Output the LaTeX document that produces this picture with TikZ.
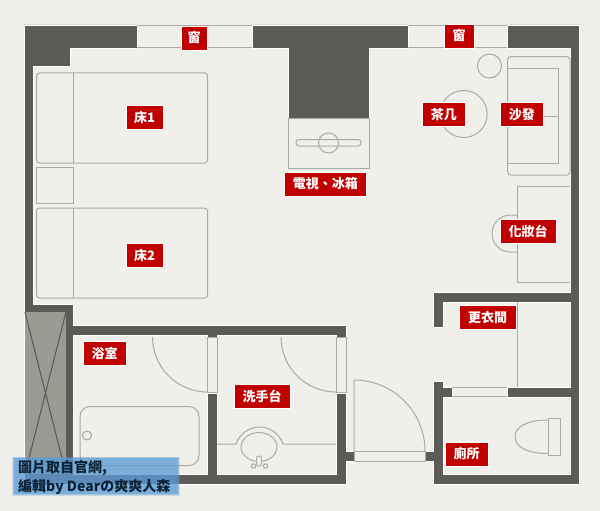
\documentclass[tikz,border=0pt]{standalone}
\usepackage{fontspec}
\setmainfont{Noto Sans CJK TC}
\definecolor{paper}{HTML}{F0EFEA}
\definecolor{wallgrey}{HTML}{5C5B58}
\definecolor{linegrey}{HTML}{ABAAA2}
\definecolor{shaftgrey}{HTML}{9B9B94}
\definecolor{tagred}{HTML}{C00000}
\definecolor{capblue}{HTML}{5B9BD5}
\definecolor{capink}{HTML}{0C2236}
\tikzset{
  wall/.style={fill=wallgrey,draw=white,line width=.7pt,line join=miter},
  fixture/.style={draw=linegrey,line width=1pt},
  tag/.style={fill=tagred,draw=white,line width=.4pt,text=white,font=\fontsize{13}{13}\selectfont\bfseries,
    inner sep=0pt,minimum height=24pt,minimum width=#1},
  tag/.default=43.5pt
}
\begin{document}
\begin{tikzpicture}
[x=1pt,y=-1pt]
\useasboundingbox[fill=paper] (0,0) rectangle (600,511);
% walls
\draw[wall] (24,25) -- (137,25) -- (137,48) -- (70,48) -- (70,66) -- (33,66) -- (33,304) -- (73,304) -- (73,325)
  -- (346,325) -- (346,337) -- (336,337) -- (336,335) -- (217,335) -- (217,337) -- (207,337) -- (207,335) -- (73,335)
  -- (73,474) -- (207,474) -- (207,393) -- (217,393) -- (217,474) -- (336,474) -- (336,393) -- (346,393)
  -- (346,451) -- (354,451) -- (354,461) -- (346,461) -- (346,484) -- (24,484) -- cycle;
\draw[wall] (252,25) -- (408,25) -- (408,48) -- (369,48) -- (369,118) -- (288,118) -- (288,48) -- (252,48) -- cycle;
\draw[wall] (507,25) -- (579,25) -- (579,484) -- (433,484) -- (433,461) -- (425,461) -- (425,451) -- (433,451)
  -- (433,381) -- (443,381) -- (443,387) -- (452,387) -- (452,397) -- (443,397) -- (443,474) -- (570,474)
  -- (570,397) -- (507,397) -- (507,387) -- (570,387) -- (570,302) -- (443,302) -- (443,327) -- (433,327)
  -- (433,292) -- (570,292) -- (570,48) -- (507,48) -- cycle;
% shaft
\fill[shaftgrey] (25,312) rectangle (66,474);
\draw[wallgrey,line width=1.1pt] (25,312) -- (66,474) (66,312) -- (25,474);
% windows and door sills
\draw[fixture] (137,25.5) -- (252,25.5) (137,47.5) -- (252,47.5);
\draw[fixture] (408,25.5) -- (507,25.5) (408,47.5) -- (507,47.5);
\draw[fixture] (354,451) rectangle (425,461);
\draw[fixture] (452,387.5) -- (507,387.5) (452,396.5) -- (507,396.5);
\draw[fixture] (207,337.5) rectangle (217,392.5);
\draw[fixture] (336,337.5) rectangle (346,392.5);
% doors
\draw[fixture] (152.5,337) arc[start angle=180,end angle=270,radius=55,y radius=-55];
\draw[fixture] (281,337) arc[start angle=180,end angle=270,radius=55,y radius=-55];
\draw[fixture] (354,451) -- (354,380) arc[start angle=90,end angle=0,radius=71,y radius=-71];
% beds
\draw[fixture,rounded corners=3pt] (36.5,73) rectangle (207.5,163);
\draw[fixture] (73,73) -- (73,163);
\draw[fixture] (36.5,167) rectangle (73,203.5);
\draw[fixture,rounded corners=3pt] (36.5,208) rectangle (207.5,298);
\draw[fixture] (73,208) -- (73,298);
% tv stand
\draw[fixture] (288,118) rectangle (369,168);
\draw[fixture,rounded corners=3pt] (296,139.5) rectangle (361,146);
\draw[fixture] (328.5,143) circle[radius=10];
% table, sofa
\draw[fixture] (489.5,66) circle[radius=12];
\draw[fixture] (463.7,114) circle[radius=23.5];
\draw[fixture,rounded corners=3pt] (507.7,56.7) rectangle (570,175);
\draw[fixture] (507.7,68.5) -- (558,68.5) -- (558,163.5) -- (507.7,163.5);
\draw[fixture] (507.7,116) -- (558,116);
% dressing table
\draw[fixture] (570,186) -- (517.5,186) -- (517.5,282) -- (570,282);
\draw[fixture] (517.5,215) -- (510.5,215) arc[start angle=90,end angle=270,radius=18.5,y radius=-18.5] -- (517.5,252);
% closet, toilet
\draw[fixture] (517.5,302) -- (517.5,387);
\draw[fixture] (548.5,418.5) rectangle (560.5,455.5);
\draw[fixture] (548.5,420) .. controls (525,420) and (515,428) .. (515,436.5) .. controls (515,446) and (525,453.5) .. (548.5,453.5);
% bath
\draw[fixture,rounded corners=10pt] (80,406.5) rectangle (199,465.5);
\draw[fixture] (87,435.5) circle[radius=4.5];
% basin
\draw[fixture] (217,444) -- (236,444) .. controls (240,433) and (250,427) .. (259.5,427) .. controls (269,427) and (279,433) .. (283,444) -- (336,444);
\draw[fixture] (259,447) ellipse[x radius=18,y radius=14.5];
\draw[fixture,fill=paper,rounded corners=2pt] (256.5,456) rectangle (261.5,466);
\draw[fixture] (253.5,466) circle[radius=2.2] (265.5,466) circle[radius=2.2];
% room names
\node[tag=26pt] (window1) at (194,38) {窗};
\node[tag=30pt] (window2) at (459,36) {窗};
\node[tag=37pt] (bed1) at (144.5,117) {床1};
\node[tag=37pt] (bed2) at (144.5,255) {床2};
\node[tag=82.5pt] (tv) at (325.3,184) {電視、冰箱};
\node[tag] (table) at (443.8,114.3) {茶几};
\node[tag] (sofa) at (521.8,114.3) {沙發};
\node[tag=56.5pt] (dresser) at (528.2,231) {化妝台};
\node[tag=56.5pt] (closet) at (487.5,317) {更衣間};
\node[tag] (bath) at (104.5,353.3) {浴室};
\node[tag=56.5pt] (basin) at (262,396.5) {洗手台};
\node[tag] (toilet) at (466.7,453.8) {廁所};
% caption
\fill[capblue,opacity=.25] (12,456.5) rectangle (179.5,495.5);
\fill[capblue,opacity=.35] (12.7,457.2) rectangle (178.8,494.8);
\fill[capblue,opacity=.55] (13.5,458) rectangle (178,494);
\node[anchor=west,inner sep=0pt,align=left,text=capink,font=\fontsize{14}{19}\selectfont\bfseries] (caption) at (18,477.2) {圖片取自官網,\\編輯by Dearの爽爽人森};
\end{tikzpicture}
\end{document}
